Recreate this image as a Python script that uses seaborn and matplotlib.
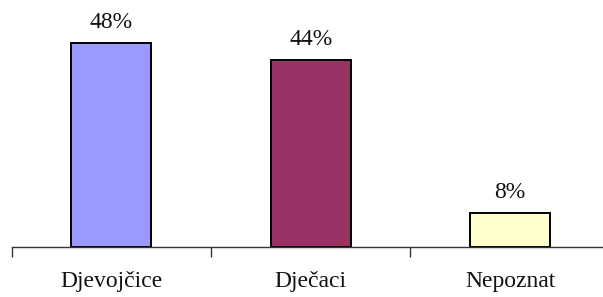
import pandas as pd
import matplotlib
matplotlib.use("Agg")
import matplotlib.pyplot as plt
import seaborn as sns

# data
categories = ["Djevojčice", "Dječaci", "Nepoznat"]
shares = [48, 44, 8]
bar_colors = ["#9999FF", "#993366", "#FFFFCC"]

df = pd.DataFrame({"Spol": categories, "Udio": shares})

sns.set_style("white")
plt.rcParams["font.family"] = ["Liberation Serif", "DejaVu Serif"]

fig = plt.figure(figsize=(6.03, 2.97), dpi=100)
ax = fig.add_axes([11.5 / 603, 50 / 297, 591.5 / 603, 247 / 297])

sns.barplot(data=df, x="Spol", y="Udio", hue="Spol", palette=bar_colors,
            saturation=1, legend=False, width=0.40, edgecolor="black",
            linewidth=1.4, ax=ax)

# percent labels above the bars
for c in ax.containers:
    ax.bar_label(c, labels=[f"{v:.0f}%" for v in c.datavalues],
                 padding=7, fontsize=17, color="#111111")

ax.set_xlim(-0.5, 2.465)
ax.set_ylim(0, 58.1)
ax.set_xlabel("")
ax.set_ylabel("")
ax.set_yticks([])

for s in ["left", "top", "right"]:
    ax.spines[s].set_visible(False)
ax.spines["bottom"].set_color("#333333")
ax.spines["bottom"].set_linewidth(1.0)

# ticks between categories, labels centred under bars
ax.set_xticks([-0.5, 0.5, 1.5], minor=True)
ax.tick_params(axis="x", which="minor", bottom=True, length=7, width=1,
               color="#333333", direction="out")
ax.tick_params(axis="x", which="major", bottom=True, length=0, pad=17,
               labelsize=17, labelcolor="#111111")

fig.savefig("out.png", dpi=100)
